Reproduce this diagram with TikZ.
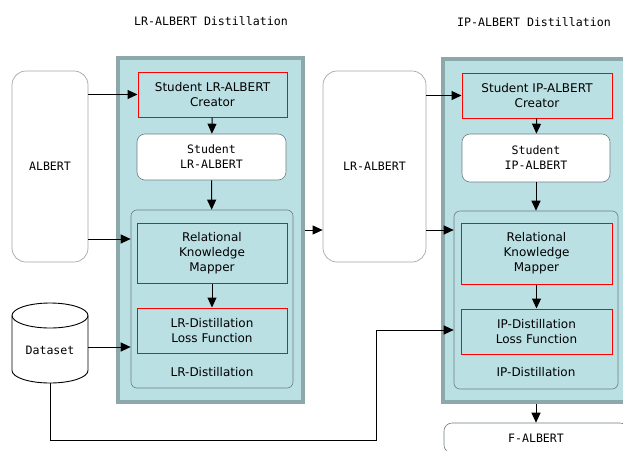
\documentclass[tikz,border=0pt]{standalone}
\usepackage{fontspec}
\setmainfont{DejaVu Sans}
\setmonofont{DejaVu Sans Mono}
\usetikzlibrary{arrows.meta}
\definecolor{panelfill}{HTML}{BAE0E4}
\definecolor{panelline}{HTML}{8CA8AA}
\definecolor{boxline}{HTML}{6E7F80}

\begin{document}
\begin{tikzpicture}[
    x=1pt, y=-1pt,
    >={Triangle[length=10pt,width=9pt]},
    panel/.style={draw=panelline, line width=3.5pt, fill=panelfill, inner sep=0pt},
    groupbox/.style={draw=boxline, line width=0.6pt, fill=panelfill, rounded corners=6pt, inner sep=0pt},
    redbox/.style={draw=red, line width=1pt, fill=panelfill, inner sep=0pt, align=center,
        font=\fontsize{12}{15}\selectfont},
    whitebox/.style={draw=boxline, line width=0.6pt, fill=white, rounded corners=8pt, inner sep=0pt,
        align=center, font=\ttfamily\fontsize{11.6}{15}\selectfont},
    modelbox/.style={draw=black!35, line width=0.7pt, fill=white, rounded corners=14pt, inner sep=0pt,
        font=\ttfamily\fontsize{11.6}{15}\selectfont},
    title/.style={font=\ttfamily\fontsize{11.6}{15}\selectfont},
    grouplab/.style={font=\fontsize{12}{15}\selectfont},
    disc/.style={x radius=38pt, y radius=12.5pt},
    arr/.style={->, line width=1pt}
]
\useasboundingbox (0,0) rectangle (623,450);
\clip (0,0) rectangle (623,450);

% --- Titles ---
\node[title] (lrtitle) at (211,21) {LR-ALBERT Distillation};
\node[title] (iptitle) at (534,22) {IP-ALBERT Distillation};

% --- Input models ---
\node[modelbox, minimum width=76pt, minimum height=191pt] (albert) at (50,166.5) {ALBERT};
% dataset drum
\draw[line width=0.9pt, fill=white] (12,315.5) -- (12,370.5)
    arc[start angle=180, end angle=360, disc] -- (88,315.5)
    arc[start angle=0, end angle=180, disc] -- cycle;
\draw[line width=0.9pt] (12,315.5) arc[start angle=180, end angle=360, disc];
\node[inner sep=0pt, minimum width=76pt, minimum height=80pt] (dataset) at (50,343) {};
\node[title] (datalab) at (50,350) {Dataset};

% --- LR-ALBERT distillation ---
\node[panel, minimum width=185pt, minimum height=344pt] (lrpanel) at (210.5,230) {};
\node[redbox, minimum width=149pt, minimum height=45pt] (lrcreator) at (212.5,94.5) {Student LR-ALBERT\\Creator};
\node[whitebox, minimum width=149pt, minimum height=46pt] (lrstudent) at (211.5,157) {Student\\LR-ALBERT};
\node[groupbox, minimum width=162pt, minimum height=178pt] (lrinner) at (212,299) {};
\node[redbox, minimum width=150pt, minimum height=60pt] (lrmapper) at (212,253) {Relational\\Knowledge\\Mapper};
\node[redbox, minimum width=150pt, minimum height=45pt] (lrloss) at (212,330.5) {LR-Distillation\\Loss Function};
\node[grouplab] (lrlabel) at (212,372) {LR-Distillation};

% --- Intermediate model ---
\node[modelbox, minimum width=103pt, minimum height=191pt] (lralbert) at (374.5,166.5) {LR-ALBERT};

% --- IP-ALBERT distillation ---
\node[panel, minimum width=185pt, minimum height=343pt] (ippanel) at (535.5,230.5) {};
\node[redbox, minimum width=150pt, minimum height=45pt] (ipcreator) at (537,95.5) {Student IP-ALBERT\\Creator};
\node[whitebox, minimum width=148pt, minimum height=48pt] (ipstudent) at (536,158) {Student\\IP-ALBERT};
\node[groupbox, minimum width=164pt, minimum height=178pt] (ipinner) at (536,300) {};
\node[redbox, minimum width=151pt, minimum height=61pt] (ipmapper) at (536.5,253.5) {Relational\\Knowledge\\Mapper};
\node[redbox, minimum width=151pt, minimum height=45pt] (iploss) at (536.5,331.5) {IP-Distillation\\Loss Function};
\node[grouplab] (iplabel) at (536,372) {IP-Distillation};

% --- Output model ---
\node[whitebox, minimum width=184pt, minimum height=30pt] (falbert) at (536,438) {F-ALBERT};
\coordinate (detour) at (376,440);

% --- Connections ---
\draw[arr] (albert.east |- lrcreator.west) -- (lrcreator.west);
\draw[arr] (albert.east |- 0,239) -- (lrinner.west |- 0,239);
\draw[arr] (dataset.east |- 0,347) -- (lrinner.west |- 0,347);
\draw[arr] (lrcreator) -- (lrstudent);
\draw[arr] (lrstudent) -- (lrinner);
\draw[arr] (lrmapper) -- (lrloss);
\draw[arr] (lrpanel.east |- 0,230) -- (lralbert.west |- 0,230);
\draw[arr] (lralbert.east |- ipcreator.west) -- (ipcreator.west);
\draw[arr] (lralbert.east |- 0,230) -- (ipinner.west |- 0,230);
\draw[arr] (ipcreator) -- (ipstudent);
\draw[arr] (ipstudent) -- (ipinner);
\draw[arr] (ipmapper) -- (iploss);
\draw[arr] (dataset.south) |- (detour) |- (ipinner.west |- 0,330);
\draw[arr] (ippanel.south -| falbert.north) -- (falbert.north);

\end{tikzpicture}
\end{document}
